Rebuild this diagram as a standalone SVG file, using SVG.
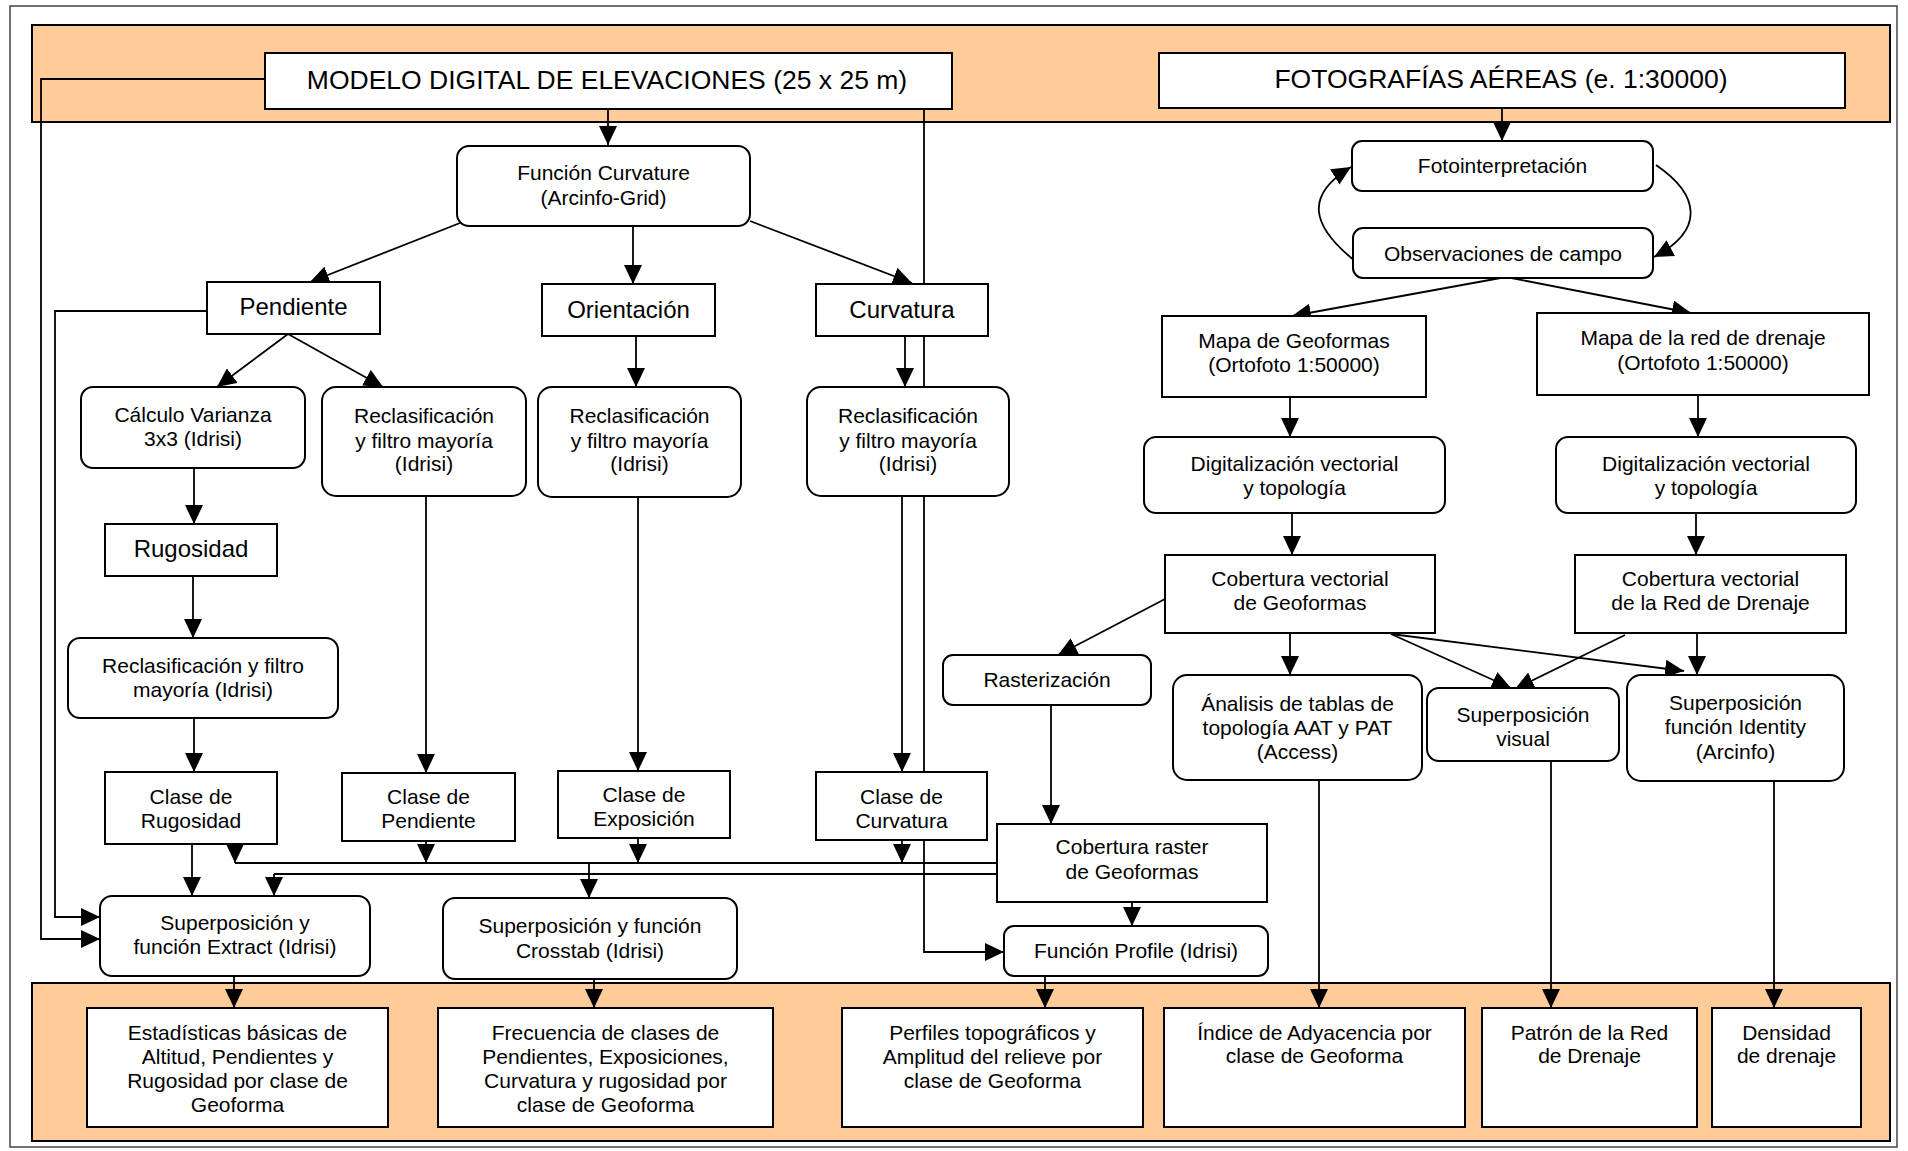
<svg xmlns="http://www.w3.org/2000/svg" width="1908" height="1151" viewBox="0 0 1908 1151">
<style>
text{font-family:"Liberation Sans",Arial,sans-serif;fill:#000;text-anchor:middle}
.s{font-size:21px}
.m{font-size:24px}
.l{font-size:26.5px}
.box{fill:#fff;stroke:#000;stroke-width:2}
.band{fill:#FFCC99;stroke:#000;stroke-width:2}
.c{fill:none;stroke:#000;stroke-width:1.8}
.a{fill:none;stroke:#000;stroke-width:1.8;marker-end:url(#ah)}
</style>
<defs>
<marker id="ah" markerUnits="userSpaceOnUse" markerWidth="20" markerHeight="18" refX="19" refY="9" orient="auto">
<path d="M0,0 L19,9 L0,18 z" fill="#000"/>
</marker>
</defs>
<rect x="0" y="0" width="1908" height="1151" fill="#fff"/>
<rect x="10" y="6" width="1887" height="1141" fill="none" stroke="#444" stroke-width="1.5"/>
<rect class="band" x="32" y="25" width="1858" height="97"/>
<rect class="band" x="32" y="983" width="1858" height="158"/>

<g id="connectors">
<path class="a" d="M265,79 H41 V939 H100"/>
<path class="a" d="M207,311 H55 V917 H100"/>
<path class="a" d="M924,109 V952 H1004"/>
<path class="a" d="M608,109 V145"/>
<path class="a" d="M1502,108 V141"/>
<path class="a" d="M460,223 L310,282"/>
<path class="a" d="M633,226 V284"/>
<path class="a" d="M750,221 L912,283"/>
<path class="a" d="M288,334 L217,387"/>
<path class="a" d="M288,334 L383,387"/>
<path class="a" d="M636,336 V387"/>
<path class="a" d="M905,336 V387"/>
<path class="a" d="M194,468 V524"/>
<path class="a" d="M193,576 V638"/>
<path class="a" d="M194,718 V772"/>
<path class="a" d="M426,496 V773"/>
<path class="a" d="M638,497 V771"/>
<path class="a" d="M902,496 V772"/>
<path class="a" d="M235,844 V863"/>
<path class="a" d="M426,841 V863"/>
<path class="a" d="M638,838 V863"/>
<path class="a" d="M902,840 V863"/>
<path class="c" d="M235,863 H997"/>
<path class="c" d="M274,874 H997"/>
<path class="a" d="M192,844 V896"/>
<path class="a" d="M274,874 V896"/>
<path class="a" d="M589,863 V898"/>
<path class="a" d="M234,976 V1008"/>
<path class="a" d="M594,979 V1008"/>
<path class="a" d="M1045,976 V1008"/>
<path class="a" d="M1355,261 C1310,225 1305,195 1351,167"/>
<path class="a" d="M1656,165 C1700,195 1705,230 1654,257"/>
<path class="a" d="M1506,277 L1292,316"/>
<path class="a" d="M1506,277 L1691,313"/>
<path class="a" d="M1290,397 V437"/>
<path class="a" d="M1698,395 V437"/>
<path class="a" d="M1292,513 V555"/>
<path class="a" d="M1696,513 V555"/>
<path class="a" d="M1165,599 L1058,655"/>
<path class="a" d="M1290,633 V675"/>
<path class="a" d="M1391,634 L1511,688"/>
<path class="a" d="M1391,634 L1684,671"/>
<path class="a" d="M1625,635 L1515,689"/>
<path class="a" d="M1697,633 V675"/>
<path class="a" d="M1051,705 V824"/>
<path class="a" d="M1132,902 V926"/>
<path class="a" d="M1319,780 V1008"/>
<path class="a" d="M1551,761 V1008"/>
<path class="a" d="M1774,781 V1008"/>
</g>

<g id="mde"><rect class="box" x="265" y="53" width="687" height="56"/><text class="l" x="607" y="88.5">MODELO DIGITAL DE ELEVACIONES (25 x 25 m)</text></g>
<g id="foto"><rect class="box" x="1159" y="53" width="686" height="55"/><text class="l" x="1501" y="88">FOTOGRAFÍAS AÉREAS (e. 1:30000)</text></g>
<g id="curvature-fn"><rect class="box" x="457" y="146" width="293" height="80" rx="12"/><text class="s" x="603.5" y="180">Función Curvature</text><text class="s" x="603.5" y="205">(Arcinfo-Grid)</text></g>
<g id="fotointerp"><rect class="box" x="1352" y="141" width="301" height="50" rx="10"/><text class="s" x="1502.5" y="173">Fotointerpretación</text></g>
<g id="observ"><rect class="box" x="1353" y="228" width="300" height="50" rx="10"/><text class="s" x="1503" y="260.5">Observaciones de campo</text></g>
<g id="pendiente"><rect class="box" x="207" y="282" width="173" height="52"/><text class="m" x="293.5" y="315">Pendiente</text></g>
<g id="orientacion"><rect class="box" x="542" y="284" width="173" height="52"/><text class="m" x="628.5" y="318">Orientación</text></g>
<g id="curvatura"><rect class="box" x="816" y="284" width="172" height="52"/><text class="m" x="902" y="318">Curvatura</text></g>
<g id="varianza"><rect class="box" x="81" y="387" width="224" height="81" rx="12"/><text class="s" x="193" y="422">Cálculo Varianza</text><text class="s" x="193" y="446">3x3 (Idrisi)</text></g>
<g id="reclas-pend"><rect class="box" x="322" y="387" width="204" height="109" rx="14"/><text class="s" x="424" y="423">Reclasificación</text><text class="s" x="424" y="447.5">y filtro mayoría</text><text class="s" x="424" y="471">(Idrisi)</text></g>
<g id="reclas-orient"><rect class="box" x="538" y="387" width="203" height="110" rx="14"/><text class="s" x="639.5" y="423">Reclasificación</text><text class="s" x="639.5" y="447.5">y filtro mayoría</text><text class="s" x="639.5" y="471">(Idrisi)</text></g>
<g id="reclas-curv"><rect class="box" x="807" y="387" width="202" height="109" rx="14"/><text class="s" x="908" y="423">Reclasificación</text><text class="s" x="908" y="447.5">y filtro mayoría</text><text class="s" x="908" y="471">(Idrisi)</text></g>
<g id="rugosidad"><rect class="box" x="105" y="524" width="172" height="52"/><text class="m" x="191" y="557">Rugosidad</text></g>
<g id="reclas-rug"><rect class="box" x="68" y="638" width="270" height="80" rx="12"/><text class="s" x="203" y="673">Reclasificación y filtro</text><text class="s" x="203" y="697">mayoría (Idrisi)</text></g>
<g id="clase-rug"><rect class="box" x="105" y="772" width="172" height="72"/><text class="s" x="191" y="804">Clase de</text><text class="s" x="191" y="828">Rugosidad</text></g>
<g id="clase-pend"><rect class="box" x="342" y="773" width="173" height="68"/><text class="s" x="428.5" y="804">Clase de</text><text class="s" x="428.5" y="828">Pendiente</text></g>
<g id="clase-expo"><rect class="box" x="558" y="771" width="172" height="67"/><text class="s" x="644" y="802">Clase de</text><text class="s" x="644" y="826">Exposición</text></g>
<g id="clase-curv"><rect class="box" x="816" y="772" width="171" height="68"/><text class="s" x="901.5" y="804">Clase de</text><text class="s" x="901.5" y="828">Curvatura</text></g>
<g id="extract"><rect class="box" x="100" y="896" width="270" height="80" rx="12"/><text class="s" x="235" y="930">Superposición y</text><text class="s" x="235" y="954">función Extract (Idrisi)</text></g>
<g id="crosstab"><rect class="box" x="443" y="898" width="294" height="81" rx="12"/><text class="s" x="590" y="933">Superposición y función</text><text class="s" x="590" y="958">Crosstab (Idrisi)</text></g>
<g id="mapa-geo"><rect class="box" x="1162" y="316" width="264" height="81"/><text class="s" x="1294" y="348">Mapa de Geoformas</text><text class="s" x="1294" y="372">(Ortofoto 1:50000)</text></g>
<g id="mapa-red"><rect class="box" x="1537" y="313" width="332" height="82"/><text class="s" x="1703" y="345">Mapa de la red de drenaje</text><text class="s" x="1703" y="370">(Ortofoto 1:50000)</text></g>
<g id="digit-geo"><rect class="box" x="1144" y="437" width="301" height="76" rx="12"/><text class="s" x="1294.5" y="471">Digitalización vectorial</text><text class="s" x="1294.5" y="495">y topología</text></g>
<g id="digit-red"><rect class="box" x="1556" y="437" width="300" height="76" rx="12"/><text class="s" x="1706" y="471">Digitalización vectorial</text><text class="s" x="1706" y="495">y topología</text></g>
<g id="cob-geo"><rect class="box" x="1165" y="555" width="270" height="78"/><text class="s" x="1300" y="586">Cobertura vectorial</text><text class="s" x="1300" y="610">de Geoformas</text></g>
<g id="cob-red"><rect class="box" x="1575" y="555" width="271" height="78"/><text class="s" x="1710.5" y="586">Cobertura vectorial</text><text class="s" x="1710.5" y="610">de la Red de Drenaje</text></g>
<g id="raster"><rect class="box" x="943" y="655" width="208" height="50" rx="10"/><text class="s" x="1047" y="687">Rasterización</text></g>
<g id="analisis"><rect class="box" x="1173" y="675" width="249" height="105" rx="14"/><text class="s" x="1297.5" y="711">Ánalisis de tablas de</text><text class="s" x="1297.5" y="735">topología AAT y PAT</text><text class="s" x="1297.5" y="759">(Access)</text></g>
<g id="sup-visual"><rect class="box" x="1427" y="688" width="192" height="73" rx="12"/><text class="s" x="1523" y="722">Superposición</text><text class="s" x="1523" y="746">visual</text></g>
<g id="identity"><rect class="box" x="1627" y="675" width="217" height="106" rx="14"/><text class="s" x="1735.5" y="710">Superposición</text><text class="s" x="1735.5" y="734">función Identity</text><text class="s" x="1735.5" y="759">(Arcinfo)</text></g>
<g id="cob-raster"><rect class="box" x="997" y="824" width="270" height="78"/><text class="s" x="1132" y="854">Cobertura raster</text><text class="s" x="1132" y="879">de Geoformas</text></g>
<g id="profile"><rect class="box" x="1004" y="926" width="264" height="50" rx="10"/><text class="s" x="1136" y="958">Función Profile (Idrisi)</text></g>
<g id="estad"><rect class="box" x="87" y="1008" width="301" height="119"/><text class="s" x="237.5" y="1040">Estadísticas básicas de</text><text class="s" x="237.5" y="1064">Altitud, Pendientes y</text><text class="s" x="237.5" y="1088">Rugosidad por clase de</text><text class="s" x="237.5" y="1112">Geoforma</text></g>
<g id="frec"><rect class="box" x="438" y="1008" width="335" height="119"/><text class="s" x="605.5" y="1040">Frecuencia de clases de</text><text class="s" x="605.5" y="1064">Pendientes, Exposiciones,</text><text class="s" x="605.5" y="1088">Curvatura y rugosidad por</text><text class="s" x="605.5" y="1112">clase de Geoforma</text></g>
<g id="perfiles"><rect class="box" x="842" y="1008" width="301" height="119"/><text class="s" x="992.5" y="1040">Perfiles topográficos y</text><text class="s" x="992.5" y="1064">Amplitud del relieve por</text><text class="s" x="992.5" y="1088">clase de Geoforma</text></g>
<g id="indice"><rect class="box" x="1164" y="1008" width="301" height="119"/><text class="s" x="1314.5" y="1040">Índice de Adyacencia por</text><text class="s" x="1314.5" y="1063">clase de Geoforma</text></g>
<g id="patron"><rect class="box" x="1482" y="1008" width="215" height="119"/><text class="s" x="1589.5" y="1040">Patrón de la Red</text><text class="s" x="1589.5" y="1063">de Drenaje</text></g>
<g id="densidad"><rect class="box" x="1712" y="1008" width="149" height="119"/><text class="s" x="1786.5" y="1040">Densidad</text><text class="s" x="1786.5" y="1063">de drenaje</text></g>
</svg>
